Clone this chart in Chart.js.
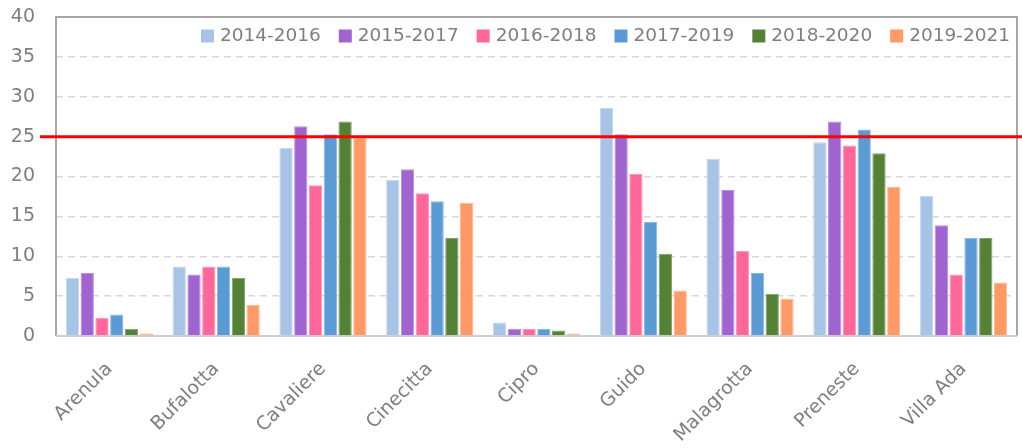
<!DOCTYPE html>
<html>
<head>
<meta charset="utf-8">
<script src="https://cdn.jsdelivr.net/npm/chart.js@4.4.1/dist/chart.umd.min.js"></script>
<style>
html,body{margin:0;padding:0;background:#fff;}
#wrap{width:1022px;height:448px;}
</style>
</head>
<body>
<div id="wrap"><canvas id="c" width="1022" height="448"></canvas></div>
<script>
const categories = ["Arenula","Bufalotta","Cavaliere","Cinecitta","Cipro","Guido","Malagrotta","Preneste","Villa Ada"];
const seriesNames = ["2014-2016","2015-2017","2016-2018","2017-2019","2018-2020","2019-2021"];
const s2014 = [7.3, 8.7, 23.6, 19.6, 1.7, 28.6, 22.2, 24.3, 17.6];
const s2015 = [7.9, 7.7, 26.3, 20.9, 0.9, 25.3, 18.3, 26.9, 13.9];
const s2016 = [2.3, 8.7, 18.9, 17.9, 0.9, 20.3, 10.7, 23.9, 7.7];
const s2017 = [2.7, 8.7, 25.3, 16.9, 0.9, 14.3, 7.9, 25.9, 12.3];
const s2018 = [0.9, 7.3, 26.9, 12.3, 0.7, 10.3, 5.3, 22.9, 12.3];
const s2019 = [0.3, 3.9, 24.9, 16.7, 0.3, 5.7, 4.7, 18.7, 6.7];
const yTicks = [0,5,10,15,20,25,30,35,40];
const threshold = 25;

const colors = ["#a7c4e7","#a064d0","#ff6699","#5b9bd5","#548235","#ff9966"];
const borders = ["#c4d8f0","#bd8ee0","#ff94b8","#8ab8e3","#7fa266","#ffb894"];
const allSeries = [s2014,s2015,s2016,s2017,s2018,s2019];
const FONT = 'DejaVu Sans';

const framePlugin = {
  id:'frame',
  beforeDatasetsDraw(chart){
    const {ctx, chartArea:a} = chart;
    ctx.save();
    ctx.setLineDash([]);
    ctx.lineWidth = 2;
    ctx.strokeStyle = '#a6a6a6';
    ctx.beginPath();
    ctx.moveTo(a.left, a.bottom);
    ctx.lineTo(a.left, a.top);
    ctx.lineTo(a.right, a.top);
    ctx.lineTo(a.right, a.bottom);
    ctx.stroke();
    ctx.strokeStyle = '#cfcfcf';
    ctx.beginPath();
    ctx.moveTo(a.left, a.bottom);
    ctx.lineTo(a.right, a.bottom);
    ctx.stroke();
    ctx.restore();
  }
};
const thresholdPlugin = {
  id:'threshold',
  afterDatasetsDraw(chart){
    const {ctx} = chart;
    const y = chart.scales.y.getPixelForValue(threshold);
    ctx.save();
    ctx.setLineDash([]);
    ctx.strokeStyle = '#ff0000';
    ctx.lineWidth = 3;
    ctx.beginPath();
    ctx.moveTo(40, y);
    ctx.lineTo(chart.width, y);
    ctx.stroke();
    ctx.restore();
  }
};
// legend drawn inside the plot area, top-right
const innerLegend = {
  id:'innerLegend',
  afterDraw(chart){
    const {ctx, chartArea:a} = chart;
    const box = 13, gapText = 6, gapItem = 18;
    ctx.save();
    ctx.font = '18.5px "' + FONT + '"';
    ctx.textBaseline = 'middle';
    ctx.textAlign = 'left';
    const ds = chart.data.datasets;
    let x = a.right - 7;
    const cy = a.top + 19;
    for (let i = ds.length - 1; i >= 0; i--) {
      const w = ctx.measureText(ds[i].label).width;
      const tx = x - w;
      ctx.fillStyle = '#7f7f7f';
      ctx.fillText(ds[i].label, tx, cy);
      const bx = tx - gapText - box;
      ctx.fillStyle = ds[i].backgroundColor;
      ctx.fillRect(bx, cy - box/2, box, box);
      x = bx - gapItem;
    }
    ctx.restore();
  }
};

new Chart(document.getElementById('c'), {
  type:'bar',
  data:{
    labels: categories,
    datasets: seriesNames.map((n,i)=>({
      label:n,
      data: allSeries[i],
      backgroundColor: colors[i],
      borderColor: borders[i],
      borderWidth: 1,
      categoryPercentage: 0.83,
      barPercentage: 0.9
    }))
  },
  options:{
    responsive:false,
    devicePixelRatio:1,
    animation:false,
    layout:{padding:{top:17,right:5,left:0,bottom:0}},
    plugins:{
      legend:{display:false},
      tooltip:{enabled:false}
    },
    scales:{
      x:{
        grid:{display:false},
        border:{display:false},
        ticks:{
          color:'#7f7f7f',
          font:{family:FONT, size:19},
          maxRotation:45, minRotation:45,
          padding:14
        },
        afterFit(s){ s.height = 112; s.paddingLeft = 0; s.paddingRight = 0; }
      },
      y:{
        min:0, max:40,
        afterBuildTicks(s){ s.ticks = yTicks.map(v=>({value:v})); },
        grid:{
          drawTicks:false,
          lineWidth:1.5,
          color:(c)=> (c.tick && (c.tick.value===0 || c.tick.value===40)) ? 'rgba(0,0,0,0)' : '#d9d9d9'
        },
        border:{display:false, dash:[7,5]},
        ticks:{
          color:'#7f7f7f',
          font:{family:FONT, size:19},
          padding:21
        },
        afterFit(s){ s.width = 56; s.paddingTop = 0; s.paddingBottom = 0; }
      }
    }
  },
  plugins:[framePlugin, thresholdPlugin, innerLegend]
});
</script>
</body>
</html>
